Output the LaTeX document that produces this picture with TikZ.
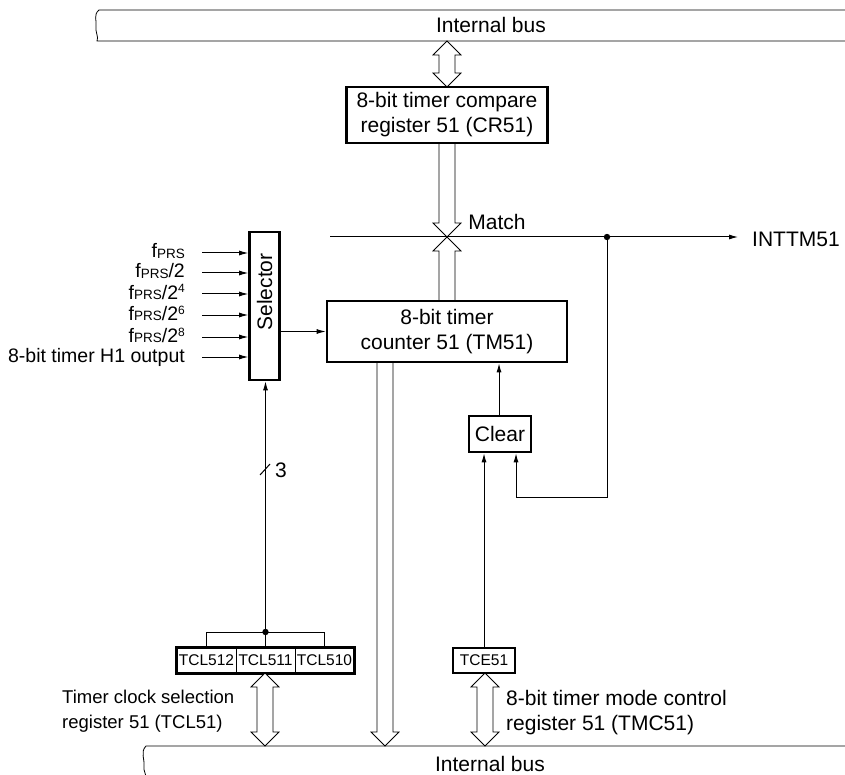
\documentclass[tikz,border=0pt]{standalone}
\usepackage{fontspec}
\setmainfont{Liberation Sans}
\usetikzlibrary{arrows.meta}
\newcommand\fprs{f\raisebox{-0.5pt}{\fontsize{13.5}{13.5}\selectfont PRS}}
\newcommand\sps[1]{\raisebox{6pt}{\fontsize{12}{12}\selectfont #1}}
\begin{document}
\begin{tikzpicture}[x=1pt,y=-1pt,
  every node/.style={font=\fontsize{21}{25}\selectfont, inner sep=0pt},
  box/.style={draw, line width=2.6pt, fill=white, align=center},
  cell/.style={draw, line width=0.8pt, minimum width=59pt, minimum height=25pt, font=\fontsize{15.5}{18}\selectfont},
  inlab/.style={anchor=east, font=\fontsize{19.5}{22}\selectfont, text height=13pt, text depth=3pt},
  ln/.style={line width=1pt},
  arr/.style={ln, -{Latex[length=9pt,width=5pt]}},
  hol/.style={line width=0.8pt}]
\useasboundingbox (0,0) rectangle (845,775);

% top internal bus
\draw[hol] (850,10) -- (99,10) .. controls (93,15) and (97,21) .. (96,26) .. controls (95,32) and (99,37) .. (97,41) -- (850,41);
\node (busT) at (491,25) {Internal bus};
% bottom internal bus
\draw[hol] (850,746) -- (146,746) .. controls (140,752) and (145,760) .. (144,766) .. controls (143,771) and (147,775) .. (146,780);
\node (busB) at (490,764) {Internal bus};

% boxes
\node[box, minimum width=201pt, minimum height=56pt] (cr) at (447,115) {8-bit timer compare\\register 51 (CR51)};
\node[box, minimum width=240pt, minimum height=61pt] (tm) at (447,331.5) {8-bit timer\\counter 51 (TM51)};
\node[box, minimum width=30pt, minimum height=148pt] (sel) at (264.5,306) {};
\node[rotate=90] (selt) at (264.5,292) {Selector};
\node[box, minimum width=62pt, minimum height=36pt] (clr) at (500,434) {Clear};
\node[box, minimum width=62pt, minimum height=25pt, font=\fontsize{15.5}{18}\selectfont] (tce) at (484,660.5) {TCE51};
\node[cell] (c2) at (206.5,660.5) {TCL512};
\node[cell] (c1) at (265.5,660.5) {TCL511};
\node[cell] (c0) at (324.5,660.5) {TCL510};
\draw[line width=2.6pt] (c2.north west) rectangle (c0.south east);

% hollow arrows
\draw[hol, fill=white] (447,41) -- (461,55) -- (455,55) -- (455,73) -- (461,73) -- (447,87) -- (433,73) -- (439,73) -- (439,55) -- (433,55) -- cycle;
\draw[hol] (439,143) -- (439,223) -- (433,223) -- (447,237) -- (461,223) -- (455,223) -- (455,143);
\draw[hol] (439,301) -- (439,251) -- (433,251) -- (447,237) -- (461,251) -- (455,251) -- (455,301);
\draw[hol] (377,362) -- (377,732) -- (371,732) -- (385,746) -- (399,732) -- (393,732) -- (393,362);
\draw[hol, fill=white] (265,673) -- (279,687) -- (273,687) -- (273,732) -- (279,732) -- (265,746) -- (251,732) -- (257,732) -- (257,687) -- (251,687) -- cycle;
\draw[hol, fill=white] (485,673) -- (499,687) -- (493,687) -- (493,732) -- (499,732) -- (485,746) -- (471,732) -- (477,732) -- (477,687) -- (471,687) -- cycle;

% match line
\coordinate (mL) at (330,237);
\coordinate (dot) at (607,237);
\coordinate (mR) at (738,237);
\draw[arr] (mL) -- (mR);
\fill (dot) circle (3.2pt);
\node[anchor=south] (match) at (497,230) {Match};
\node[anchor=west] (int) at (752,239) {INTTM51};
\coordinate (fb1) at (607,497);
\coordinate (fb2) at (516,497);
\draw[arr] (dot) -- (fb1) -- (fb2) -- (fb2 |- clr.south);
\draw[arr] (clr.north -| 499,0) -- (tm.south -| 499,0);
\draw[arr] (tce.north) -- (tce.north |- clr.south);

% selector inputs
\foreach \y/\t [count=\i] in {253/{\fprs}, 273/{\fprs/2}, 294/{\fprs/2\sps{4}}, 315/{\fprs/2\sps{6}}, 337/{\fprs/2\sps{8}}, 357/{8-bit timer H1 output}}{
  \coordinate (in\i) at (202,\y);
  \node[inlab] (lab\i) at (185,\y) {\t};
  \draw[arr] (in\i) -- (in\i -| sel.west);
}
\draw[arr] (sel.east |- tm.west) -- (tm.west);

% TCL bracket
\coordinate (br) at (265.5,632);
\draw[ln] (c2.north) -- (c2.north |- br) -- (c0.north |- br) -- (c0.north);
\draw[ln] (br) -- (c1.north);
\fill (br) circle (3.2pt);
\draw[arr] (br) -- (br |- sel.south);
\draw[ln] (260,475) -- (270,464);
\node (three) at (281,470) {3};

% side labels
\node[anchor=west, align=left, font=\fontsize{18.5}{25}\selectfont] (tclt) at (62,711) {Timer clock selection\\register 51 (TCL51)};
\node[anchor=west, align=left] (tmct) at (506,713) {8-bit timer mode control\\register 51 (TMC51)};
\end{tikzpicture}
\end{document}
